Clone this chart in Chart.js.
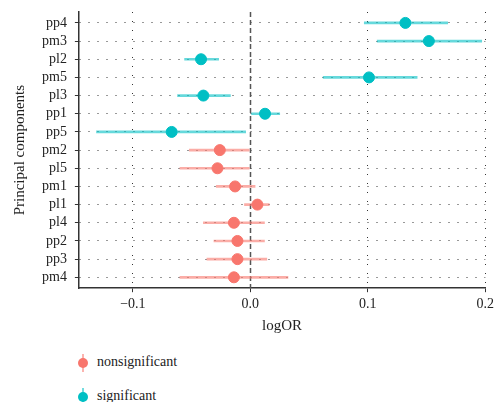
<!DOCTYPE html>
<html>
<head>
<meta charset="utf-8">
<script src="https://cdn.jsdelivr.net/npm/chart.js@4/dist/chart.umd.min.js"></script>
<style>
  body { margin: 0; background: #fff; }
  #wrap { position: relative; width: 498px; height: 402px; font-family: "Liberation Serif", serif; }
  #box { position: absolute; left: 0; top: 0; width: 498px; height: 339px; }
  .leg { position: absolute; left: 77px; font-size: 14px; color: #222; }
  .leg .mk { position: absolute; left: 0; top: -9px; width: 12px; height: 18px; }
  .leg .mk .ln { position: absolute; left: 5px; top: 0; width: 2px; height: 18px; }
  .leg .mk .dot { position: absolute; left: 1px; top: 4px; width: 10px; height: 10px; border-radius: 50%; }
  .leg .tx { position: absolute; left: 20px; top: -9px; white-space: nowrap; }
</style>
</head>
<body>
<div id="wrap">
  <div id="box"><canvas id="myChart"></canvas></div>
  <div class="leg" style="top:363px"><div class="mk"><div class="ln" style="background:rgba(248,118,109,0.55)"></div><div class="dot" style="background:#F8766D"></div></div><span class="tx">nonsignificant</span></div>
  <div class="leg" style="top:397px"><div class="mk"><div class="ln" style="background:rgba(0,191,196,0.55)"></div><div class="dot" style="background:#00BFC4"></div></div><span class="tx">significant</span></div>
</div>
<script>
var components = ['pp4', 'pm3', 'pl2', 'pm5', 'pl3', 'pp1', 'pp5', 'pm2', 'pl5', 'pm1', 'pl1', 'pl4', 'pp2', 'pp3', 'pm4'];
var logOR = [0.132, 0.152, -0.042, 0.101, -0.040, 0.0125, -0.067, -0.026, -0.028, -0.013, 0.006, -0.014, -0.011, -0.011, -0.014];
var lower = [0.097, 0.108, -0.056, 0.062, -0.062, 0.001, -0.131, -0.052, -0.060, -0.029, -0.005, -0.040, -0.031, -0.037, -0.060];
var upper = [0.168, 0.197, -0.027, 0.142, -0.017, 0.025, -0.004, -0.001, -0.001, 0.004, 0.016, 0.012, 0.012, 0.014, 0.032];
var significant = [1, 1, 1, 1, 1, 1, 1, 0, 0, 0, 0, 0, 0, 0, 0];
var xTicks = [-0.1, 0.0, 0.1, 0.2];

var red = '#F8766D', teal = '#00BFC4';
var redLine = 'rgba(248,118,109,0.6)', tealLine = 'rgba(0,191,196,0.6)';

var ciData = components.map(function(c, i) { return {y: i, x: [lower[i], upper[i]]}; });
var ptData = components.map(function(c, i) { return {y: i, x: logOR[i]}; });
var ptColors = significant.map(function(s) { return s ? teal : red; });
var ciColors = significant.map(function(s) { return s ? tealLine : redLine; });

// dashed reference line at logOR = 0
var zeroLine = {
    id: 'zeroLine',
    beforeDatasetsDraw: function(chart) {
        var ctx = chart.ctx, area = chart.chartArea;
        var x = Math.round(chart.scales.x.getPixelForValue(0)) + 0.5;
        ctx.save();
        ctx.strokeStyle = '#555';
        ctx.lineWidth = 1.5;
        ctx.setLineDash([5, 3]);
        ctx.beginPath();
        ctx.moveTo(x, area.top);
        ctx.lineTo(x, area.bottom);
        ctx.stroke();
        ctx.restore();
    }
};

var serif = '"Liberation Serif", serif';
var ctx = document.getElementById('myChart').getContext('2d');
var chart = new Chart(ctx, {
    type: 'bar',
    data: {
        datasets: [{
            type: 'scatter',
            data: ptData,
            backgroundColor: ptColors,
            borderColor: ptColors,
            pointRadius: 5.5,
            pointHoverRadius: 5.5,
            order: 0
        }, {
            type: 'bar',
            indexAxis: 'y',
            data: ciData,
            backgroundColor: ciColors,
            barThickness: 2,
            order: 1
        }]
    },
    options: {
        indexAxis: 'y',
        responsive: true,
        maintainAspectRatio: false,
        animation: false,
        layout: { padding: { top: 12, right: -3, left: 7, bottom: 0 } },
        plugins: { legend: { display: false }, tooltip: { enabled: false } },
        scales: {
            x: {
                type: 'linear',
                offset: false,
                beginAtZero: false,
                min: -0.146,
                max: 0.2,
                afterBuildTicks: function(axis) { axis.ticks = xTicks.map(function(v) { return {value: v}; }); },
                ticks: {
                    autoSkip: false,
                    color: '#222',
                    font: { family: serif, size: 14 },
                    padding: 4,
                    callback: function(v) { return v < 0 ? '\u2212' + Math.abs(v).toFixed(1) : v.toFixed(1); }
                },
                grid: {
                    offset: false,
                    color: function(c) { return c.tick && c.tick.value === 0 ? 'rgba(0,0,0,0)' : '#333'; },
                    lineWidth: 1,
                    tickColor: '#333',
                    tickLength: 4,
                    tickBorderDash: []
                },
                border: { color: '#333', width: 1.5, dash: [1, 8] },
                title: { display: true, text: 'logOR', color: '#222', font: { family: serif, size: 15 }, padding: { top: 0 } }
            },
            y: {
                type: 'linear',
                offset: false,
                reverse: true,
                min: -0.6,
                max: 14.6,
                afterBuildTicks: function(axis) { axis.ticks = components.map(function(c, i) { return {value: i}; }); },
                afterFit: function(axis) { axis.paddingTop = 0; axis.paddingBottom = 0; },
                ticks: {
                    autoSkip: false,
                    color: '#222',
                    font: { family: serif, size: 14 },
                    padding: 8,
                    callback: function(v) { return components[v]; }
                },
                grid: {
                    offset: false,
                    color: '#333',
                    lineWidth: 1,
                    tickColor: '#333',
                    tickLength: 4,
                    tickBorderDash: []
                },
                border: { color: '#333', width: 1.5, dash: [1, 8] },
                title: { display: true, text: 'Principal components', color: '#222', font: { family: serif, size: 15 }, padding: { bottom: 5 } }
            }
        }
    },
    plugins: [zeroLine]
});
</script>
</body>
</html>
